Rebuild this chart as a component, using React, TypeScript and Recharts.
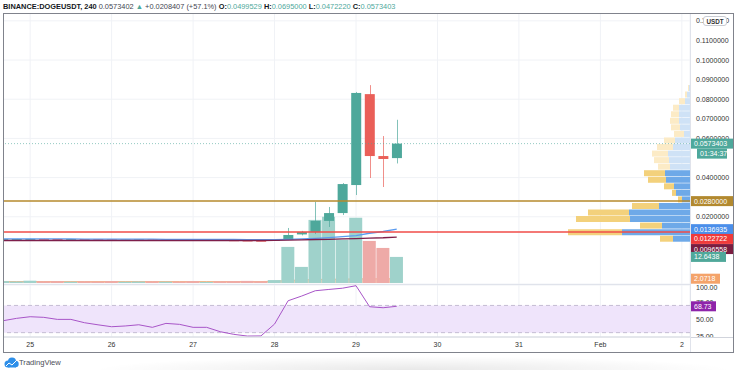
import React from "react";
import {
  ComposedChart, BarChart, Bar, Line, Area, XAxis, YAxis, CartesianGrid,
  ReferenceLine, ReferenceArea, Cell,
} from "recharts";

const FONT = "'Liberation Sans', Arial, sans-serif";
const UP = "#4ea89b";
const DOWN = "#ea5f58";
const GRID = "#f0f2f6";

// 4h slots, slot 0 = Jan 24 20:00
const slots = [-1, 0, 1, 2, 3, 4, 5, 6, 7, 8, 9, 10, 11, 12, 13, 14, 15, 16, 17, 18, 19, 20, 21, 22, 23, 24, 25, 26, 27, 28];
const opens = [0.00852, 0.0086, 0.00865, 0.00872, 0.00868, 0.0086, 0.00861, 0.0085, 0.00842, 0.00832, 0.00836, 0.00841, 0.00828, 0.0084, 0.00835, 0.00822, 0.00823, 0.00805, 0.00792, 0.0078, 0.00778, 0.00816, 0.011, 0.0122, 0.0179, 0.0219, 0.0362, 0.0826, 0.051, 0.0499529];
const highs = [0.00866, 0.00874, 0.0088, 0.00878, 0.00871, 0.00868, 0.00864, 0.00855, 0.00846, 0.00842, 0.00848, 0.00845, 0.00846, 0.00843, 0.00838, 0.00828, 0.00826, 0.0081, 0.00798, 0.00786, 0.0084, 0.01429, 0.0128, 0.0276, 0.025, 0.0372, 0.0837, 0.0872, 0.0612, 0.0695];
const lows = [0.00848, 0.00855, 0.0086, 0.00862, 0.00855, 0.00854, 0.00845, 0.00838, 0.00826, 0.00828, 0.00832, 0.00822, 0.00824, 0.0083, 0.00818, 0.00816, 0.008, 0.00786, 0.00774, 0.0077, 0.00775, 0.0081, 0.0105, 0.0112, 0.0148, 0.0209, 0.0311, 0.0398, 0.0352, 0.047222];
const closes = [0.0086, 0.00865, 0.00872, 0.00868, 0.0086, 0.00861, 0.0085, 0.00842, 0.00832, 0.00836, 0.00841, 0.00828, 0.0084, 0.00835, 0.00822, 0.00823, 0.00805, 0.00792, 0.0078, 0.00778, 0.00816, 0.01071, 0.0122, 0.0179, 0.0219, 0.0367, 0.0832, 0.051, 0.0495, 0.0573403];
const volumes = [0.9, 0.7, 1.1, 0.8, 0.9, 0.6, 0.8, 0.7, 0.9, 0.6, 0.7, 0.8, 0.6, 0.7, 0.9, 0.5, 0.8, 0.9, 1.0, 0.8, 1.4, 17.5, 7.8, 30.6, 32.1, 21.0, 31.6, 20.4, 17.0, 12.6438];
const volMa = [0.7, 0.7, 0.7, 0.7, 0.7, 0.7, 0.7, 0.7, 0.7, 0.7, 0.7, 0.7, 0.7, 0.7, 0.7, 0.7, 0.7, 0.7, 0.7, 0.7, 0.8, 1.3, 1.5, 1.7, 1.8, 1.9, 2.0, 2.05, 2.06, 2.0718];
const maFast = [0.0087, 0.0087, 0.0087, 0.0087, 0.0087, 0.0087, 0.0086, 0.0086, 0.0086, 0.0086, 0.0086, 0.0086, 0.0085, 0.0085, 0.0085, 0.0084, 0.0084, 0.0084, 0.0083, 0.0083, 0.0083, 0.0085, 0.0087, 0.009, 0.0094, 0.0099, 0.0104, 0.0116, 0.0125, 0.0136935];
const maSlow = [0.0079, 0.0079, 0.0079, 0.0079, 0.0079, 0.0079, 0.0079, 0.0079, 0.0079, 0.0079, 0.0079, 0.0079, 0.0079, 0.0079, 0.0079, 0.0079, 0.0079, 0.0079, 0.0079, 0.0079, 0.008, 0.0081, 0.0082, 0.0084, 0.0085, 0.0087, 0.0089, 0.0091, 0.0093, 0.0096558];
const rsi = [47.5, 51.0, 53.4, 52.5, 49.5, 49.5, 44.6, 41.5, 38.7, 39.8, 41.6, 37.8, 43.6, 42.2, 37.8, 37.8, 31.4, 27.5, 25.0, 25.2, 42.6, 76.9, 83.8, 91.6, 93.5, 95.3, 99.0, 68.1, 66.6, 68.73];

const levels = [0.028, 0.0122722];

const dayTicks = [1, 7, 13, 19, 25, 31, 37, 43, 49];
const dayLabels = ["25", "26", "27", "28", "29", "30", "31", "Feb", "2"];
const priceTicks = [0.02, 0.04, 0.06, 0.07, 0.08, 0.09, 0.1, 0.11, 0.12];
const gridPrices = [0.01, 0.02, 0.03, 0.04, 0.05, 0.06, 0.07, 0.08, 0.09, 0.1, 0.11, 0.12];
const rsiTicks = [25, 50, 75, 100];

// volume profile rows (bin centre price, up volume, down volume)
const profilePrices = [0.00867, 0.01201, 0.01536, 0.0187, 0.02204, 0.02538, 0.02873, 0.03207, 0.03541, 0.03875, 0.0421, 0.04544, 0.04878, 0.05212, 0.05547, 0.05881, 0.06215, 0.06549, 0.06884, 0.07218, 0.07552, 0.07886, 0.08221, 0.08555];
const profileUp = [17, 68, 28, 60, 61, 31, 8, 14, 16, 24, 25, 20, 21, 22, 17, 15, 6, 10, 11, 11, 11, 5, 3, 1];
const profileDown = [13, 54, 22, 54, 41, 27, 4, 4, 10, 18, 21, 12, 15, 16, 16, 11, 10, 9, 9, 8, 6, 6, 2, 1];
const VALUE_AREA_HIGH = 0.044;

const X_DOMAIN: [number, number] = [-1, 49.6];
const PRICE_DOMAIN: [number, number] = [-0.0143, 0.124];
const VOL_DOMAIN: [number, number] = [-0.5, 131];
const RSI_DOMAIN: [number, number] = [23.6, 101.5];

const rows = slots.map((slot, i) => ({
  slot, open: opens[i], high: highs[i], low: lows[i], close: closes[i],
  vol: volumes[i], volMa: volMa[i], maFast: maFast[i], maSlow: maSlow[i], rsi: rsi[i],
}));
const profileRows = profilePrices.map((price, i) => ({
  price, up: profileUp[i], down: profileDown[i], va: price < VALUE_AREA_HIGH,
}));
const last = rows[rows.length - 1];

const Candle = (props: any) => {
  const { x, y, width, height, payload } = props;
  if (x == null || !payload) return null;
  const { open, close, high, low } = payload;
  const color = close >= open ? UP : DOWN;
  const top = Math.min(y, y + height);
  const h = Math.abs(height);
  const ratio = high > low ? h / (high - low) : 0;
  const bodyTop = top + (high - Math.max(open, close)) * ratio;
  const bodyH = Math.max(1, Math.abs(open - close) * ratio);
  const cx = Math.round(x + width / 2) + 0.5;
  return (
    <g>
      <line x1={cx} x2={cx} y1={top} y2={top + h} stroke={color} strokeOpacity={0.7} />
      <rect x={x} y={bodyTop} width={width} height={bodyH} fill={color} />
    </g>
  );
};

const Tag = ({ viewBox, text, bg, shift = 0, w = 43, sub }: any) => {
  if (!viewBox) return null;
  const x = viewBox.x + viewBox.width;
  const y = viewBox.y + shift;
  return (
    <g>
      <rect x={x} y={y - 5} width={w} height={10} fill={bg} />
      <text x={x + 4} y={y} dy="0.35em" fontSize={7} fill="#fff" fontFamily={FONT}>{text}</text>
      {sub && (
        <g>
          <rect x={x + 7} y={y + 5} width={30} height={10} fill={bg} />
          <text x={x + 10} y={y + 10} dy="0.35em" fontSize={7} fill="#fff" fontFamily={FONT}>{sub}</text>
        </g>
      )}
    </g>
  );
};

const fmt = (v: number) => v.toFixed(7);
const tickStyle = { fontSize: 7, fill: "#333", fontFamily: FONT };
const noMargin = { top: 0, right: 0, bottom: 0, left: 0 };
const axisMargin = { top: 0, right: 43, bottom: 0, left: 0 };

export default function App() {
  return (
    <div style={{ position: "fixed", left: 0, top: 0, width: 736, height: 370, background: "#fff", fontFamily: FONT, overflow: "hidden" }}>
      <div style={{ position: "absolute", left: 3, top: 1.5, fontSize: 7.4, color: "#131722", whiteSpace: "nowrap" }}>
        <b>BINANCE:DOGEUSDT, 240</b>{" "}
        <span style={{ color: "#434651" }}>0.0573402 <span style={{ color: UP }}>▲</span> +0.0208407 (+57.1%)</span>{" "}
        <b>O:</b><span style={{ color: UP }}>0.0499529</span>{" "}
        <b>H:</b><span style={{ color: UP }}>0.0695000</span>{" "}
        <b>L:</b><span style={{ color: UP }}>0.0472220</span>{" "}
        <b>C:</b><span style={{ color: UP }}>0.0573403</span>
      </div>

      {/* grid + volume profile, under the price pane */}
      <div style={{ position: "absolute", left: 3, top: 13 }}>
        <ComposedChart width={730} height={271} data={rows} margin={axisMargin}>
          <CartesianGrid stroke={GRID} />
          <XAxis dataKey="slot" type="number" domain={X_DOMAIN} ticks={dayTicks} allowDataOverflow hide />
          <YAxis type="number" domain={PRICE_DOMAIN} ticks={gridPrices} allowDataOverflow hide />
        </ComposedChart>
      </div>
      <div style={{ position: "absolute", left: 3, top: 13 }}>
        <BarChart layout="vertical" width={730} height={271} data={profileRows} margin={axisMargin} barGap={0}>
          <XAxis type="number" domain={[0, 687]} reversed hide />
          <YAxis type="number" dataKey="price" domain={PRICE_DOMAIN} allowDataOverflow reversed hide />
          <Bar dataKey="up" stackId="vp" barSize={6} isAnimationActive={false}>
            {profileRows.map((r, i) => <Cell key={i} fill={r.va ? "#6ea9e8" : "#cfe2f6"} />)}
          </Bar>
          <Bar dataKey="down" stackId="vp" barSize={6} isAnimationActive={false}>
            {profileRows.map((r, i) => <Cell key={i} fill={r.va ? "#f3d17c" : "#fcebc6"} />)}
          </Bar>
        </BarChart>
      </div>

      {/* price pane */}
      <div style={{ position: "absolute", left: 3, top: 13 }}>
        <ComposedChart width={730} height={271} data={rows} margin={noMargin}>
          <XAxis xAxisId="x" dataKey="slot" type="number" domain={X_DOMAIN} allowDataOverflow hide />
          <XAxis xAxisId="xv" dataKey="slot" type="number" domain={X_DOMAIN} allowDataOverflow hide />
          <YAxis
            yAxisId="p" orientation="right" type="number" domain={PRICE_DOMAIN} ticks={priceTicks}
            allowDataOverflow width={43} axisLine={false} tickLine={false} tickSize={4} tickMargin={2}
            tick={tickStyle} tickFormatter={fmt}
          />
          <YAxis yAxisId="v" type="number" domain={VOL_DOMAIN} allowDataOverflow hide />
          <Bar xAxisId="xv" yAxisId="v" dataKey="vol" barSize={13} isAnimationActive={false}>
            {rows.map((r, i) => <Cell key={i} fill={r.close >= r.open ? "#9fd2cb" : "#eeaaa7"} />)}
          </Bar>
          <Area xAxisId="xv" yAxisId="v" dataKey="volMa" type="linear" stroke="#f4a36a" strokeOpacity={0.7} fill="#f4a36a" fillOpacity={0.5} dot={false} isAnimationActive={false} />
          <Line xAxisId="x" yAxisId="p" dataKey="maFast" type="linear" stroke="#5b9cf0" strokeWidth={1.3} dot={false} isAnimationActive={false} />
          <Line xAxisId="x" yAxisId="p" dataKey="maSlow" type="linear" stroke="#7e1f4a" strokeWidth={1.3} dot={false} isAnimationActive={false} />
          <ReferenceLine xAxisId="x" yAxisId="p" y={last.close} stroke={UP} strokeDasharray="1 2" strokeOpacity={0.6} />
          <Bar xAxisId="x" yAxisId="p" dataKey={(d: any) => [d.low, d.high]} barSize={10} isAnimationActive={false}
            shape={(p: any) => <Candle {...p} />} />
          <ReferenceLine xAxisId="x" yAxisId="p" y={levels[0]} stroke="#b68a2c" strokeWidth={1.5} />
          <ReferenceLine xAxisId="x" yAxisId="p" y={levels[1]} stroke="#f04c48" strokeWidth={1.5} />
        </ComposedChart>
      </div>

      {/* price-axis tags on top */}
      <div style={{ position: "absolute", left: 3, top: 13 }}>
        <ComposedChart width={730} height={271} data={rows} margin={axisMargin}>
          <XAxis xAxisId="x" dataKey="slot" type="number" domain={X_DOMAIN} allowDataOverflow hide />
          <YAxis yAxisId="p" type="number" domain={PRICE_DOMAIN} allowDataOverflow hide />
          <YAxis yAxisId="v" type="number" domain={VOL_DOMAIN} allowDataOverflow hide />
          <ReferenceLine xAxisId="x" yAxisId="p" y={last.close} stroke="none"
            label={(p: any) => <Tag viewBox={p.viewBox} text={fmt(last.close)} bg={UP} sub="01:34:37" />} />
          <ReferenceLine xAxisId="x" yAxisId="p" y={levels[0]} stroke="none"
            label={(p: any) => <Tag viewBox={p.viewBox} text={fmt(levels[0])} bg="#b2892f" />} />
          <ReferenceLine xAxisId="x" yAxisId="p" y={last.maFast} stroke="none"
            label={(p: any) => <Tag viewBox={p.viewBox} text={fmt(last.maFast)} bg="#4b8fea" />} />
          <ReferenceLine xAxisId="x" yAxisId="p" y={levels[1]} stroke="none"
            label={(p: any) => <Tag viewBox={p.viewBox} text={fmt(levels[1])} bg="#ef3a3a" shift={7} />} />
          <ReferenceLine xAxisId="x" yAxisId="p" y={last.maSlow} stroke="none"
            label={(p: any) => <Tag viewBox={p.viewBox} text={fmt(last.maSlow)} bg="#7a1d40" shift={12} />} />
          <ReferenceLine xAxisId="x" yAxisId="v" y={last.vol} stroke="none"
            label={(p: any) => <Tag viewBox={p.viewBox} text={last.vol.toFixed(4)} bg="#50a89a" w={36} />} />
          <ReferenceLine xAxisId="x" yAxisId="v" y={last.volMa} stroke="none"
            label={(p: any) => <Tag viewBox={p.viewBox} text={last.volMa.toFixed(4)} bg="#f4a36a" w={30} />} />
        </ComposedChart>
      </div>

      {/* RSI pane + time axis */}
      <div style={{ position: "absolute", left: 3, top: 284 }}>
        <ComposedChart width={730} height={68} data={rows} margin={noMargin}>
          <CartesianGrid stroke={GRID} />
          <XAxis dataKey="slot" type="number" domain={X_DOMAIN} ticks={dayTicks} allowDataOverflow height={15}
            axisLine={{ stroke: "#d1d4dc" }} tickLine={false} tickSize={3} tickMargin={2}
            tick={tickStyle} tickFormatter={(v: number) => dayLabels[dayTicks.indexOf(v)]} />
          <YAxis orientation="right" type="number" domain={RSI_DOMAIN} ticks={rsiTicks} allowDataOverflow width={43}
            axisLine={false} tickLine={false} tickSize={4} tickMargin={2}
            tick={tickStyle} tickFormatter={(v: number) => v.toFixed(2)} />
          <ReferenceArea y1={30} y2={70} fill="#efe4fb" fillOpacity={1} stroke="none" />
          <ReferenceLine y={70} stroke="#c4bdd3" strokeDasharray="4 3" />
          <ReferenceLine y={30} stroke="#c4bdd3" strokeDasharray="4 3" />
          <Line dataKey="rsi" type="linear" stroke="#a855c8" strokeWidth={1} dot={false} isAnimationActive={false} />
        </ComposedChart>
      </div>
      {/* time-axis strip under the RSI scale hides the lower half of its last tick */}
      <div style={{ position: "absolute", left: 691, top: 337, width: 42, height: 15, background: "#fff", borderTop: "1px solid #d1d4dc", boxSizing: "border-box" }} />
      <div style={{ position: "absolute", left: 3, top: 284 }}>
        <ComposedChart width={730} height={68} data={rows} margin={{ top: 0, right: 43, bottom: 15, left: 0 }}>
          <XAxis dataKey="slot" type="number" domain={X_DOMAIN} allowDataOverflow hide />
          <YAxis type="number" domain={RSI_DOMAIN} allowDataOverflow hide />
          <ReferenceLine y={last.rsi} stroke="none"
            label={(p: any) => <Tag viewBox={p.viewBox} text={last.rsi.toFixed(2)} bg="#8e24aa" w={26} />} />
        </ComposedChart>
      </div>

      {/* frame */}
      <div style={{ position: "absolute", left: 690, top: 13, width: 1, height: 339, background: "#e0e3eb" }} />
      <div style={{ position: "absolute", left: 3, top: 284, width: 687, height: 1, background: "#e0e3eb" }} />
      <div style={{ position: "absolute", left: 3, top: 13, width: 731, height: 340, border: "1px solid #80838c", boxSizing: "border-box" }} />

      <div style={{ position: "absolute", left: 703, top: 15.5, width: 24, height: 10, border: "1px solid #c9ccd3", borderRadius: 3, background: "#fff", fontSize: 6.3, fontWeight: 700, color: "#333", textAlign: "center", lineHeight: "10px", boxSizing: "border-box" }}>USDT</div>

      {/* footer */}
      <div style={{ position: "absolute", left: 90, top: 356, width: 646, height: 14, background: "radial-gradient(ellipse at 50% 100%, rgba(0,0,0,0.09), rgba(0,0,0,0) 70%)" }} />
      <svg style={{ position: "absolute", left: 3, top: 357 }} width={16} height={11}>
        <circle cx={5} cy={7} r={3.5} fill="#2e8fe9" />
        <circle cx={9} cy={4.5} r={4} fill="#2e8fe9" />
        <circle cx={12.5} cy={7} r={3.2} fill="#2e8fe9" />
        <rect x={5} y={6} width={8} height={4.5} fill="#2e8fe9" />
        <polyline points="3,9 6,6 9,8 13,4" fill="none" stroke="#fff" strokeWidth={1} />
      </svg>
      <div style={{ position: "absolute", left: 19, top: 357.5, fontSize: 7.6, color: "#4a4d57" }}>TradingView</div>
    </div>
  );
}
